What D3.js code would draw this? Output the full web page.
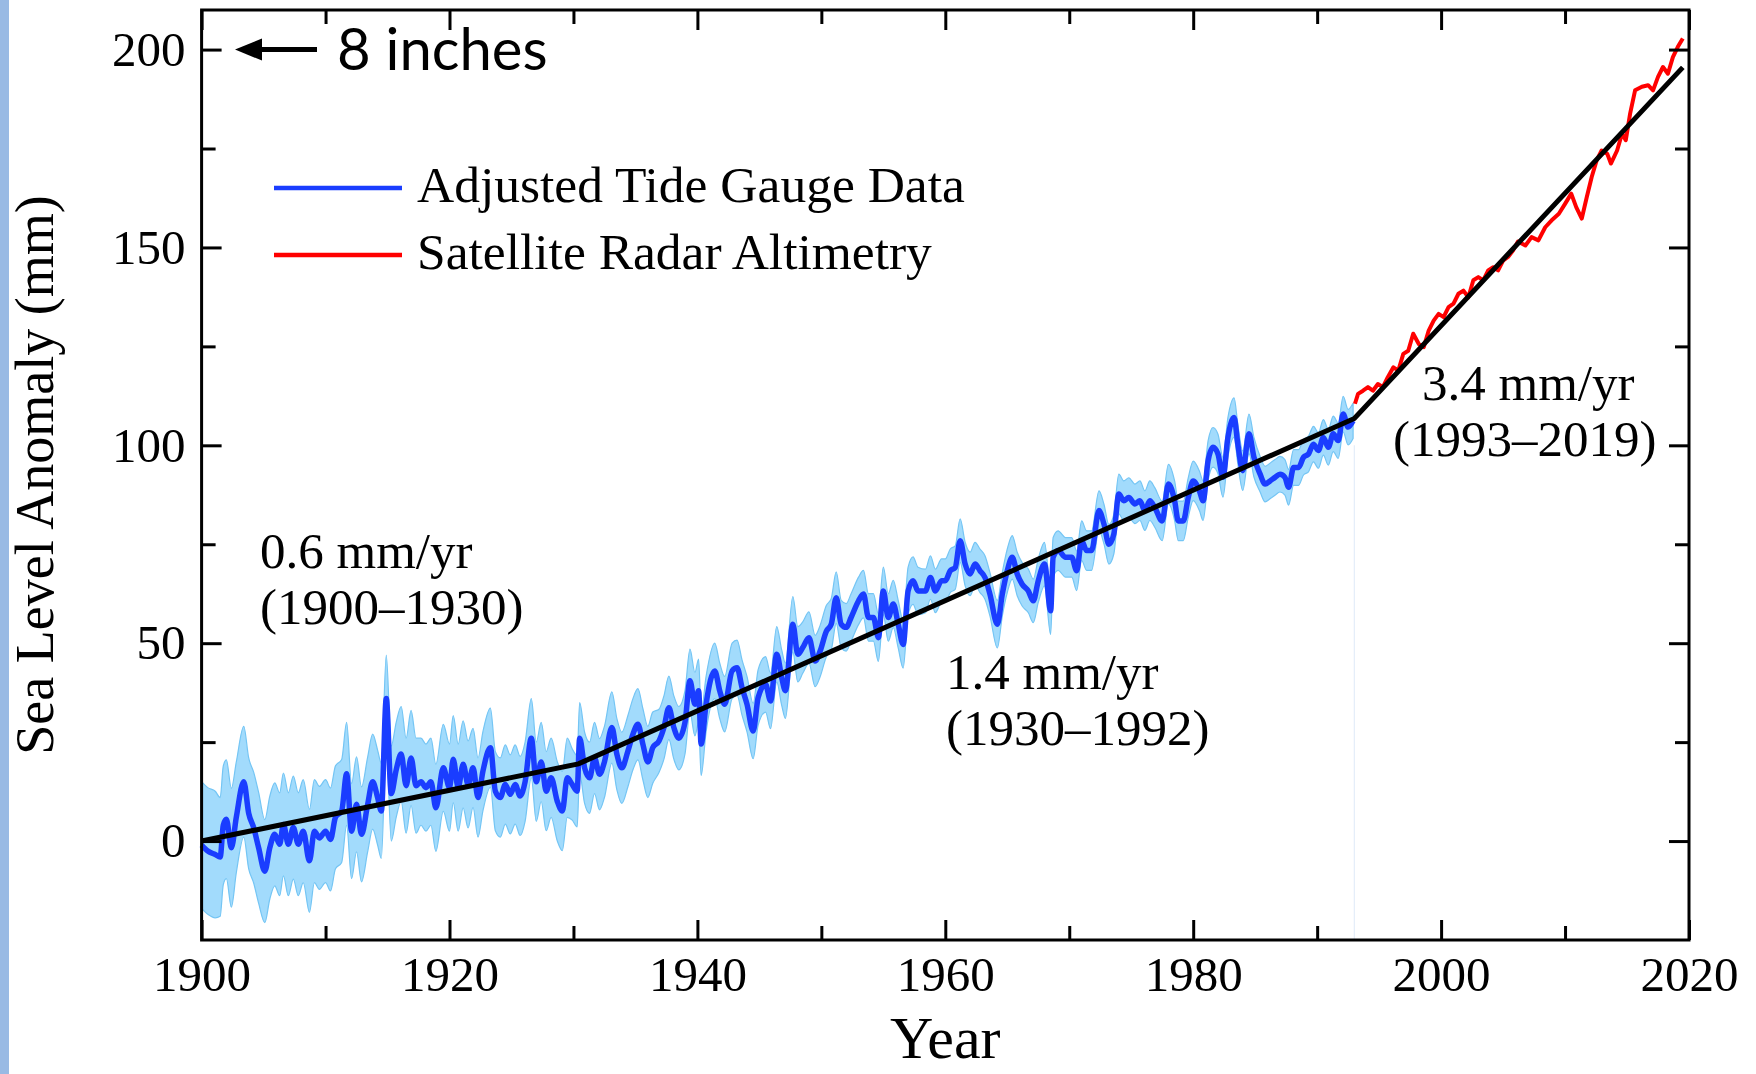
<!DOCTYPE html>
<meta charset="utf-8">
<style> /* set the CSS */

body { margin: 0; background: #fff; }
.tick text { font-family: "Liberation Serif", "Times New Roman", serif; font-size: 49px; fill: #000; }
.tick line { stroke: #000; stroke-width: 3; }
.serif { font-family: "Liberation Serif", "Times New Roman", serif; fill: #000; }

</style>
<body>

  <!-- load the d3.js library -->
  <script src="https://d3js.org/d3.v7.min.js"></script>
  <script>

    // tide gauge reconstruction: [year, mm, +/- mm of the shaded band]
    var tideGauge = [
      [1900.0, -1, 16], [1900.5, -2.5, 16], [1901.1, -3.4, 16], [1901.5, -4, 15], [1901.75, 4, 15],
      [1902.0, 5.5, 15], [1902.4, -1.7, 15], [1902.8, 6, 14], [1903.4, 15, 14], [1903.8, 7, 14],
      [1904.2, 3.4, 14], [1904.6, -1.7, 14], [1905.1, -7.6, 13], [1905.5, -1.7, 13], [1905.9, 1.7, 13],
      [1906.3, -0.8, 13], [1906.6, 4.2, 13], [1907.0, -0.8, 13], [1907.4, 3.4, 13], [1907.8, -0.8, 13],
      [1908.2, 2.5, 13], [1908.7, -5, 13], [1909.1, 2.5, 13], [1909.5, 0.8, 13], [1910.0, 2.5, 13],
      [1910.4, 0.4, 13], [1910.8, 6, 13], [1911.3, 7.6, 13], [1911.7, 17, 13], [1912.1, 2.5, 12],
      [1912.5, 9.3, 12], [1912.9, 1.7, 12], [1913.4, 9.3, 12], [1913.8, 15, 12], [1914.2, 11, 12],
      [1914.5, 7.6, 12], [1914.9, 36, 11], [1915.3, 12, 12], [1915.7, 18, 12], [1916.1, 22, 12],
      [1916.5, 14, 12], [1916.9, 21, 12], [1917.3, 14, 12], [1917.7, 15, 11], [1918.1, 13.5, 11],
      [1918.5, 15, 11], [1918.9, 8.4, 11], [1919.5, 18.5, 11], [1920.0, 13.5, 11], [1920.3, 20.7, 11],
      [1920.7, 13.5, 11], [1921.1, 19.4, 11], [1921.5, 14.3, 11], [1921.9, 18.5, 10], [1922.3, 11, 10],
      [1922.7, 17.7, 10], [1923.3, 23.6, 10], [1923.7, 12.6, 10], [1924.1, 11, 10], [1924.5, 14.3, 10],
      [1924.9, 11.8, 10], [1925.3, 14.3, 10], [1925.7, 11.4, 10], [1926.1, 15, 10], [1926.6, 26, 10],
      [1927.0, 15, 10], [1927.4, 20, 10], [1927.8, 12.6, 10], [1928.2, 16, 10], [1928.7, 10, 10],
      [1929.1, 7.6, 10], [1929.5, 16, 10], [1929.9, 14.3, 9], [1930.3, 12.6, 9], [1930.5, 26, 9],
      [1930.9, 18.5, 9], [1931.3, 16, 9], [1931.7, 21, 9], [1932.1, 16.9, 9], [1932.5, 20, 9],
      [1933.1, 28.7, 9], [1933.5, 22, 9], [1933.9, 18.5, 9], [1934.4, 22.8, 9], [1934.8, 27, 9],
      [1935.2, 29.5, 9], [1935.6, 24.5, 9], [1936.0, 20, 9], [1936.4, 23.6, 9], [1936.9, 25.3, 8],
      [1937.3, 28.7, 8], [1937.7, 33.7, 8], [1938.1, 28.7, 8], [1938.5, 26, 8], [1939.0, 30, 8],
      [1939.4, 40.5, 8], [1939.8, 34.6, 8], [1940.1, 38, 8], [1940.3, 24.5, 8], [1940.7, 34.6, 7],
      [1941.4, 43, 7], [1941.8, 38, 7], [1942.2, 34.6, 7], [1942.8, 43, 7], [1943.2, 43.8, 7],
      [1943.6, 38.8, 7], [1944.0, 34.6, 7], [1944.5, 27.8, 7], [1944.9, 36.3, 7], [1945.5, 39.6, 7],
      [1945.9, 35.4, 7], [1946.4, 47.2, 7], [1946.8, 41.3, 7], [1947.1, 38, 7], [1947.7, 54.8, 7],
      [1948.1, 47.2, 7], [1948.5, 48.9, 6.5], [1949.0, 51.4, 6.5], [1949.5, 45.5, 6.5], [1949.9, 48, 6.5],
      [1950.4, 53, 6.5], [1950.8, 54.8, 6.5], [1951.2, 61.5, 6.5], [1951.6, 54.8, 6], [1952.0, 54, 6],
      [1952.4, 56.5, 6], [1953.0, 60.7, 6], [1953.4, 62.4, 6], [1953.8, 56.5, 6], [1954.2, 56.5, 6],
      [1954.6, 51.4, 6], [1955.0, 63.2, 6], [1955.4, 56.5, 6], [1955.8, 59.9, 6], [1956.2, 54.8, 6],
      [1956.6, 49.7, 6], [1957.0, 63.2, 6], [1957.4, 65.8, 6], [1957.8, 63.2, 6], [1958.4, 63.2, 5.5],
      [1958.8, 66.6, 5.5], [1959.2, 63.2, 5.5], [1959.7, 65.8, 5.5], [1960.0, 65.8, 5.5], [1960.4, 68.3, 5.5],
      [1960.8, 69.1, 5.5], [1961.2, 75.9, 5.5], [1961.6, 70, 5.5], [1962.0, 67.5, 5.5], [1962.4, 70, 5.5],
      [1962.8, 68.3, 5.5], [1963.2, 66.6, 5.5], [1963.6, 62.4, 5.5], [1964.2, 54.8, 6], [1964.6, 62.4, 5.5],
      [1965.0, 68.3, 5.5], [1965.4, 71.7, 5.5], [1965.8, 67.5, 5.5], [1966.2, 64.9, 5.5], [1966.7, 63.2, 5.5],
      [1967.1, 60.7, 5.5], [1967.5, 65.8, 5.5], [1968.0, 70, 5.5], [1968.5, 58.2, 6], [1968.7, 71.7, 5],
      [1969.1, 73.4, 5], [1969.7, 71.7, 5], [1970.2, 71.7, 5], [1970.6, 68.3, 5], [1971.0, 75.9, 5],
      [1971.4, 73.4, 5], [1971.8, 73.4, 5], [1972.4, 83.5, 5], [1972.8, 80.1, 5], [1973.2, 75, 5],
      [1973.6, 77.6, 5], [1974.0, 87.7, 5], [1974.4, 86, 5], [1974.8, 86.8, 5], [1975.3, 85.2, 5],
      [1975.7, 86, 5], [1976.1, 83.5, 5], [1976.5, 86, 5], [1976.9, 84.3, 5], [1977.5, 80.9, 5],
      [1978.0, 90.2, 5], [1978.5, 86, 5], [1978.8, 80.9, 5], [1979.2, 80.9, 5], [1979.6, 86.8, 5],
      [1980.0, 91, 5], [1980.5, 88.5, 5], [1980.8, 86, 5], [1981.2, 96.1, 5], [1981.6, 99.5, 5],
      [1982.0, 97.8, 5], [1982.4, 91.9, 5], [1982.8, 102, 5], [1983.3, 107, 5], [1983.6, 100.3, 5],
      [1984.0, 93.6, 5], [1984.5, 102.9, 5], [1984.9, 97, 5], [1985.4, 92.7, 4.5], [1985.8, 90.2, 4.5],
      [1986.2, 91, 4.5], [1986.6, 91.9, 4.5], [1987.0, 92.7, 4.5], [1987.4, 91.9, 4.5], [1987.7, 89.4, 4.5],
      [1988.1, 94.4, 4.5], [1988.5, 94.4, 4.5], [1988.9, 97, 4.5], [1989.3, 97.8, 4.5], [1989.7, 100.3, 4.5],
      [1990.1, 98.7, 4.5], [1990.5, 102, 4.5], [1990.9, 99.5, 4.5], [1991.3, 102.9, 4.5], [1991.7, 101.2, 4.5],
      [1992.1, 107.9, 4.5], [1992.5, 104.6, 4.5], [1992.9, 106.2, 4.5]
    ];

    // satellite altimetry: [year, mm]
    var satellite = [
      [1993.05, 110.5], [1993.3, 113], [1993.7, 113.8], [1994.1, 114.7], [1994.5, 113.8], [1994.9, 115.5],
      [1995.3, 114.7], [1995.7, 117.2], [1996.15, 119.7], [1996.55, 118.9], [1996.95, 123.1], [1997.35, 123.9],
      [1997.75, 128.2], [1998.2, 125.6], [1998.6, 124.8], [1999.0, 129], [1999.4, 131.5], [1999.8, 133.2],
      [2000.2, 132.4], [2000.6, 134.9], [2001.0, 135.8], [2001.4, 138.3], [2001.8, 139.1], [2002.2, 137.4],
      [2002.6, 141.7], [2003.0, 142.5], [2003.4, 141.7], [2003.8, 144.2], [2004.2, 145], [2004.6, 144.2],
      [2005.0, 146.7], [2005.4, 147.6], [2005.8, 149.2], [2006.2, 151.5], [2006.8, 150.5], [2007.3, 152.6],
      [2007.85, 151.8], [2008.4, 155.1], [2008.9, 156.8], [2009.5, 158.5], [2010.0, 161], [2010.5, 163.6],
      [2010.9, 160.2], [2011.35, 157.3], [2011.75, 162.7], [2012.15, 167.8], [2012.55, 172], [2012.95, 174.5],
      [2013.4, 173.7], [2013.7, 171.2], [2014.2, 174.5], [2014.6, 178.8], [2014.9, 177.1], [2015.25, 183.8],
      [2015.65, 189.7], [2016.2, 190.6], [2016.7, 191], [2017.1, 189.7], [2017.5, 193.1], [2017.9, 195.6],
      [2018.3, 193.9], [2018.7, 198.1], [2019.1, 200.7], [2019.5, 202.8]
    ];

    // piecewise linear trend break points: [year, mm]
    var trendBreaks = [[1900, 0], [1930.4, 19.5], [1993, 106.8], [2019.5, 195.5]];

    // ticks
    var xMajor = [1900, 1920, 1940, 1960, 1980, 2000, 2020];
    var xMinor = [1910, 1930, 1950, 1970, 1990, 2010];
    var yMajor = [0, 50, 100, 150, 200];
    var yMinor = [25, 75, 125, 175];

    // legend and rate labels
    var legendItems = [
      {name: "Adjusted Tide Gauge Data", color: "#1a3dff"},
      {name: "Satellite Radar Altimetry", color: "#ff0000"}
    ];
    var rateLabels = [
      {rate: "0.6 mm/yr", span: "(1900\u20131930)", x: 260, y: 568, dx: 0},
      {rate: "1.4 mm/yr", span: "(1930\u20131992)", x: 946, y: 689, dx: 0},
      {rate: "3.4 mm/yr", span: "(1993\u20132019)", x: 1393, y: 400, dx: 29}
    ];

    var width = 1756, height = 1074;
    var plot = {left: 201.6, right: 1689, top: 10, bottom: 940};

    // set the ranges
    var x = d3.scaleLinear().domain([1900, 2020]).range([plot.left, plot.right]);
    var y = d3.scaleLinear().domain([-25, 210]).range([plot.bottom, plot.top]);

    var svg = d3.select("body").append("svg")
      .attr("width", width)
      .attr("height", height);

    svg.append("rect").attr("width", width).attr("height", height).attr("fill", "#fff");
    // slide edge strip on the left
    svg.append("rect").attr("x", 0).attr("y", 0).attr("width", 9).attr("height", height).attr("fill", "#99bae4");

    // faint seam where the gauge record ends
    svg.append("line")
      .attr("x1", x(1993)).attr("x2", x(1993))
      .attr("y1", y(100)).attr("y2", plot.bottom)
      .attr("stroke", "#e4edf9").attr("stroke-width", 1.2);

    // uncertainty band
    var band = d3.area()
      .x(function(d) { return x(d[0]); })
      .y0(function(d) { return y(d[1] - d[2]); })
      .y1(function(d) { return y(d[1] + d[2]); })
      .curve(d3.curveMonotoneX);
    svg.append("path")
      .datum(tideGauge)
      .attr("d", band)
      .attr("fill", "#a2dbfc")
      .attr("stroke", "#74c5f4")
      .attr("stroke-width", 1.2);

    var line = d3.line()
      .x(function(d) { return x(d[0]); })
      .y(function(d) { return y(d[1]); });

    svg.append("path")
      .datum(tideGauge)
      .attr("d", line.curve(d3.curveMonotoneX))
      .attr("fill", "none")
      .attr("stroke", legendItems[0].color)
      .attr("stroke-width", 5.5)
      .attr("stroke-linejoin", "round");

    svg.append("path")
      .datum(satellite)
      .attr("d", line.curve(d3.curveLinear))
      .attr("fill", "none")
      .attr("stroke", legendItems[1].color)
      .attr("stroke-width", 4)
      .attr("stroke-linejoin", "round");

    svg.append("path")
      .datum(trendBreaks)
      .attr("d", line.curve(d3.curveLinear))
      .attr("fill", "none")
      .attr("stroke", "#000")
      .attr("stroke-width", 5);

    // axes, ticks pointing inward
    function noDomain(g) { g.select(".domain").remove(); }

    svg.append("g").attr("transform", "translate(0," + plot.bottom + ")")
      .call(d3.axisBottom(x).tickValues(xMajor).tickFormat(d3.format("d")).tickSize(-20).tickPadding(16)).call(noDomain);
    svg.append("g").attr("transform", "translate(0," + plot.bottom + ")")
      .call(d3.axisBottom(x).tickValues(xMinor).tickFormat("").tickSize(-14)).call(noDomain);
    svg.append("g").attr("transform", "translate(0," + plot.top + ")")
      .call(d3.axisTop(x).tickValues(xMajor).tickFormat("").tickSize(-20)).call(noDomain);
    svg.append("g").attr("transform", "translate(0," + plot.top + ")")
      .call(d3.axisTop(x).tickValues(xMinor).tickFormat("").tickSize(-14)).call(noDomain);

    svg.append("g").attr("transform", "translate(" + plot.left + ",0)")
      .call(d3.axisLeft(y).tickValues(yMajor).tickSize(-20).tickPadding(16)).call(noDomain);
    svg.append("g").attr("transform", "translate(" + plot.left + ",0)")
      .call(d3.axisLeft(y).tickValues(yMinor).tickFormat("").tickSize(-14)).call(noDomain);
    svg.append("g").attr("transform", "translate(" + plot.right + ",0)")
      .call(d3.axisRight(y).tickValues(yMajor).tickFormat("").tickSize(-20)).call(noDomain);
    svg.append("g").attr("transform", "translate(" + plot.right + ",0)")
      .call(d3.axisRight(y).tickValues(yMinor).tickFormat("").tickSize(-14)).call(noDomain);

    svg.selectAll(".tick text").attr("fill", "#000");

    // frame
    svg.append("rect")
      .attr("x", plot.left).attr("y", plot.top)
      .attr("width", plot.right - plot.left).attr("height", plot.bottom - plot.top)
      .attr("fill", "none").attr("stroke", "#000").attr("stroke-width", 3);

    // axis titles
    svg.append("text").attr("class", "serif")
      .attr("x", (plot.left + plot.right) / 2).attr("y", 1058)
      .attr("text-anchor", "middle").attr("font-size", 60)
      .text("Year");
    svg.append("text").attr("class", "serif")
      .attr("transform", "translate(53," + (plot.top + plot.bottom) / 2 + ") rotate(-90)")
      .attr("text-anchor", "middle").attr("font-size", 54)
      .text("Sea Level Anomaly (mm)");

    // legend
    legendItems.forEach(function(d, i) {
      var ly = 188 + i * 67;
      svg.append("line")
        .attr("x1", 274).attr("x2", 402).attr("y1", ly).attr("y2", ly)
        .attr("stroke", d.color).attr("stroke-width", 4.5);
      svg.append("text").attr("class", "serif")
        .attr("x", 417).attr("y", ly + 14).attr("font-size", 51.5)
        .text(d.name);
    });

    // rate annotations
    rateLabels.forEach(function(d) {
      svg.append("text").attr("class", "serif")
        .attr("x", d.x + d.dx).attr("y", d.y).attr("font-size", 51)
        .text(d.rate);
      svg.append("text").attr("class", "serif")
        .attr("x", d.x).attr("y", d.y + 56).attr("font-size", 51)
        .text(d.span);
    });

    // "8 inches" marker at the 200 mm tick
    var ay = y(200);
    svg.append("line")
      .attr("x1", 255).attr("x2", 317).attr("y1", ay).attr("y2", ay)
      .attr("stroke", "#000").attr("stroke-width", 5);
    svg.append("path")
      .attr("d", "M235," + ay + "L262," + (ay - 11) + "L262," + (ay + 11) + "Z")
      .attr("fill", "#000");
    svg.append("text")
      .attr("x", 337).attr("y", 70)
      .attr("font-family", "Lato, 'Open Sans', sans-serif")
      .attr("font-size", 58).attr("fill", "#000")
      .text("8 inches");

  </script>
</body>
